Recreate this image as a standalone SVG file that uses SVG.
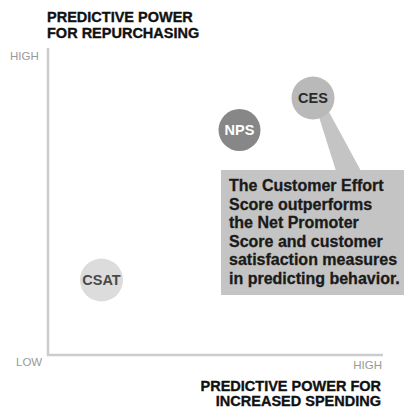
<svg xmlns="http://www.w3.org/2000/svg" width="408" height="409" viewBox="0 0 408 409">
<style>
.title{font-family:"Liberation Sans",Arial,sans-serif;font-weight:bold;font-size:14.5px;fill:#111;stroke:#111;stroke-width:0.35}
.tick{font-family:"Liberation Sans",Arial,sans-serif;font-size:11.5px;fill:#999}
.lbl{font-family:"Liberation Sans",Arial,sans-serif;font-weight:bold;font-size:14.5px;text-anchor:middle}
.note{font-family:"Liberation Sans",Arial,sans-serif;font-weight:bold;font-size:16px;fill:#1a1a1a;stroke:#1a1a1a;stroke-width:0.3}
.axis{stroke:#cccccc;stroke-width:2.5;fill:none}
</style>
<rect width="408" height="409" fill="#ffffff"/>
<g id="axes">
<path class="axis" d="M48,48 V355 H383"/>
<text class="title" x="47" y="22">PREDICTIVE POWER</text>
<text class="title" x="47" y="38">FOR REPURCHASING</text>
<text class="tick" x="10" y="60">HIGH</text>
<text class="tick" x="16" y="366">LOW</text>
<text class="tick" x="382" y="369" text-anchor="end">HIGH</text>
<text class="title" x="381" y="391" text-anchor="end">PREDICTIVE POWER FOR</text>
<text class="title" x="381" y="406" text-anchor="end">INCREASED SPENDING</text>
</g>
<g id="callout">
<polygon points="319,117 329,112 361,171 336,171" fill="#c4c4c4"/>
<rect x="221" y="170" width="183" height="125" fill="#c4c4c4"/>
<text class="note" x="229" y="191">The Customer Effort</text>
<text class="note" x="229" y="209.5">Score outperforms</text>
<text class="note" x="229" y="228">the Net Promoter</text>
<text class="note" x="229" y="246.5">Score and customer</text>
<text class="note" x="229" y="265">satisfaction measures</text>
<text class="note" x="229" y="283.5">in predicting behavior.</text>
</g>
<g id="ces">
<circle cx="313" cy="98" r="21.5" fill="#b9b9b9"/>
<text class="lbl" x="313" y="103" fill="#2a2a2a">CES</text>
</g>
<g id="nps">
<circle cx="239.5" cy="130" r="21" fill="#878787"/>
<text class="lbl" x="239.5" y="135" fill="#ffffff">NPS</text>
</g>
<g id="csat">
<circle cx="101.5" cy="280" r="21.5" fill="#dcdcdc"/>
<text class="lbl" x="101.5" y="285" fill="#4a4a4a">CSAT</text>
</g>
</svg>
